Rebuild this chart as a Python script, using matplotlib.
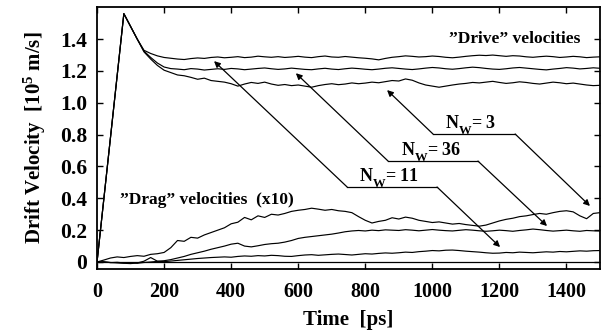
import numpy as np
import matplotlib
matplotlib.use("Agg")
import matplotlib.pyplot as plt
import matplotlib._mathtext as _mt

plt.rcParams['font.family'] = ['Liberation Serif', 'DejaVu Serif']
plt.rcParams['font.weight'] = 'bold'
plt.rcParams['mathtext.fontset'] = 'custom'
plt.rcParams['mathtext.rm'] = 'Liberation Serif:bold'
plt.rcParams['mathtext.it'] = 'Liberation Serif:bold'
plt.rcParams['mathtext.bf'] = 'Liberation Serif:bold'
# deeper subscripts, as in the scanned original
_mt.FontConstantsBase.sub1 = 0.75
_mt.FontConstantsBase.sub2 = 0.9

# ---------------- data ----------------
time_ps = list(range(0, 1501, 20))

drive_top = [0.00, 0.39, 0.78, 1.17, 1.56, 1.48, 1.40, 1.33, 1.31, 1.295,
             1.285, 1.28, 1.275, 1.272, 1.278, 1.282, 1.279, 1.285, 1.288, 1.283,
             1.286, 1.29, 1.284, 1.287, 1.293, 1.289, 1.286, 1.29, 1.285, 1.288,
             1.292, 1.287, 1.284, 1.29, 1.294, 1.288, 1.286, 1.291, 1.287, 1.283,
             1.28, 1.276, 1.27, 1.279, 1.286, 1.29, 1.295, 1.292, 1.288, 1.29,
             1.294, 1.291, 1.286, 1.283, 1.287, 1.292, 1.296, 1.299, 1.297, 1.30,
             1.296, 1.292, 1.296, 1.294, 1.289, 1.286, 1.29, 1.293, 1.29, 1.285,
             1.288, 1.292, 1.289, 1.284, 1.287, 1.289]

drive_mid = [0.00, 0.39, 0.78, 1.17, 1.56, 1.48, 1.40, 1.325, 1.285, 1.25,
             1.225, 1.215, 1.212, 1.208, 1.215, 1.212, 1.206, 1.21, 1.214, 1.21,
             1.216, 1.213, 1.208, 1.212, 1.216, 1.219, 1.214, 1.21, 1.213, 1.218,
             1.214, 1.21, 1.208, 1.213, 1.217, 1.212, 1.209, 1.214, 1.218, 1.215,
             1.211, 1.208, 1.212, 1.217, 1.22, 1.216, 1.212, 1.209, 1.213, 1.218,
             1.222, 1.219, 1.214, 1.211, 1.215, 1.22, 1.224, 1.221, 1.216, 1.212,
             1.21, 1.214, 1.219, 1.222, 1.218, 1.214, 1.21, 1.207, 1.212, 1.216,
             1.221, 1.218, 1.213, 1.216, 1.22, 1.217]

drive_low = [0.00, 0.39, 0.78, 1.17, 1.56, 1.48, 1.40, 1.32, 1.275, 1.235,
             1.205, 1.19, 1.175, 1.17, 1.16, 1.148, 1.155, 1.14, 1.135, 1.13,
             1.12, 1.105, 1.118, 1.128, 1.122, 1.13, 1.118, 1.11, 1.115, 1.108,
             1.112, 1.105, 1.098, 1.108, 1.115, 1.12, 1.114, 1.118, 1.125, 1.12,
             1.124, 1.13, 1.126, 1.133, 1.14, 1.137, 1.15, 1.142, 1.125, 1.112,
             1.105, 1.098, 1.105, 1.112, 1.118, 1.122, 1.128, 1.125, 1.13, 1.135,
             1.128, 1.122, 1.126, 1.132, 1.128, 1.122, 1.118, 1.124, 1.13, 1.126,
             1.12, 1.124, 1.118, 1.112, 1.108, 1.11]

drag_top = [0.0, 0.012, 0.025, 0.032, 0.028, 0.035, 0.04, 0.036, 0.048, 0.052,
            0.06, 0.09, 0.135, 0.13, 0.155, 0.15, 0.17, 0.185, 0.2, 0.215,
            0.24, 0.25, 0.28, 0.265, 0.29, 0.28, 0.30, 0.295, 0.305, 0.318,
            0.325, 0.33, 0.338, 0.332, 0.325, 0.33, 0.322, 0.318, 0.31, 0.285,
            0.262, 0.245, 0.255, 0.262, 0.278, 0.27, 0.282, 0.275, 0.262, 0.255,
            0.248, 0.252, 0.245, 0.238, 0.242, 0.235, 0.23, 0.225, 0.232, 0.245,
            0.258, 0.268, 0.275, 0.285, 0.29, 0.298, 0.305, 0.30, 0.31, 0.318,
            0.322, 0.315, 0.29, 0.272, 0.305, 0.31]

drag_mid = [0.0, 0.0, -0.003, -0.006, -0.008, -0.01, -0.006, 0.005, 0.028, 0.005,
            0.008, 0.015, 0.025, 0.035, 0.048, 0.058, 0.068, 0.08, 0.09, 0.10,
            0.112, 0.118, 0.10, 0.095, 0.102, 0.11, 0.115, 0.118, 0.125, 0.135,
            0.148, 0.155, 0.16, 0.165, 0.17, 0.175, 0.182, 0.19, 0.195, 0.198,
            0.195, 0.20, 0.197, 0.202, 0.20, 0.198, 0.203, 0.20, 0.196, 0.20,
            0.204, 0.20, 0.197, 0.195, 0.199, 0.203, 0.20, 0.196, 0.193, 0.196,
            0.20, 0.197, 0.193, 0.198, 0.202, 0.207, 0.203, 0.198, 0.194, 0.197,
            0.20, 0.196, 0.193, 0.198, 0.196, 0.195]

drag_low = [0.0, 0.002, -0.004, -0.002, -0.006, -0.004, -0.008, -0.003, 0.0, 0.004,
            0.002, 0.006, 0.01, 0.014, 0.018, 0.022, 0.025, 0.028, 0.03, 0.032,
            0.03, 0.035, 0.038, 0.036, 0.04, 0.038, 0.042, 0.04, 0.036, 0.035,
            0.04, 0.044, 0.046, 0.042, 0.045, 0.048, 0.05, 0.047, 0.044, 0.048,
            0.052, 0.05, 0.054, 0.057, 0.055, 0.058, 0.062, 0.06, 0.065, 0.068,
            0.072, 0.07, 0.074, 0.075, 0.072, 0.068, 0.065, 0.062, 0.058, 0.055,
            0.056, 0.06, 0.058, 0.062, 0.06, 0.058, 0.061, 0.064, 0.062, 0.066,
            0.064, 0.067, 0.07, 0.068, 0.071, 0.072]

x_ticks = [0, 200, 400, 600, 800, 1000, 1200, 1400]
y_ticks = [0, 0.2, 0.4, 0.6, 0.8, 1.0, 1.2, 1.4]
y_tick_labels = ['0', '0.2', '0.4', '0.6', '0.8', '1.0', '1.2', '1.4']

nw_labels = ['N$_{W}$= 11', 'N$_{W}$= 36', 'N$_{W}$= 3']

# ---------------- figure ----------------
fig = plt.figure(figsize=(6.11, 3.31), dpi=100)
ax = fig.add_axes([0.1588, 0.1873, 0.8232, 0.7906])

lw = 0.85
for series in (drive_top, drive_mid, drive_low, drag_top, drag_mid, drag_low):
    ax.plot(time_ps, series, color='black', lw=lw)
ax.axhline(0, color='black', lw=0.9)

ax.set_xlim(0, 1500)
ax.set_ylim(-0.044, 1.6)
ax.set_xticks(x_ticks)
ax.set_xticklabels([str(v) for v in x_ticks])
ax.set_yticks(y_ticks)
ax.set_yticklabels(y_tick_labels)
ax.tick_params(direction='in', top=True, right=True, length=4.5, width=1.0)
ax.tick_params(axis='x', pad=9, labelsize=14.5)
ax.tick_params(axis='y', pad=7, labelsize=15.5)
for sp in ax.spines.values():
    sp.set_linewidth(1.3)

ax.set_xlabel('Time  [ps]', fontsize=15, fontweight='bold', labelpad=6)
ax.set_ylabel('Drift Velocity  [10$^{5}$ m/s]', fontsize=15, fontweight='bold',
              labelpad=9)

ax.text(1440, 1.375, '\u201dDrive\u201d velocities', fontsize=12.5,
        fontweight='bold', ha='right', va='baseline')
ax.text(69, 0.364, '\u201dDrag\u201d velocities  (x10)', fontsize=12.5,
        fontweight='bold', ha='left', va='baseline')

# leader lines: (drive tip, horizontal start, horizontal end, drag tip, label pos)
leaders = [
    ((349, 1.262), (746, 0.471), (1014, 0.471), (1202, 0.094), (781, 0.508)),
    ((593, 1.186), (868, 0.634), (1136, 0.634), (1342, 0.226), (907, 0.672)),
    ((865, 1.080), (1002, 0.804), (1247, 0.804), (1470, 0.352), (1038, 0.841)),
]
arrow_kw = dict(arrowstyle='-|>', lw=0.9, color='black', mutation_scale=9,
                shrinkA=0, shrinkB=0)
for (tip1, h0, h1, tip2, lpos), lab in zip(leaders, nw_labels):
    ax.plot([h0[0], h1[0]], [h0[1], h1[1]], color='black', lw=0.9)
    ax.annotate('', xy=tip1, xytext=h0, arrowprops=arrow_kw)
    ax.annotate('', xy=tip2, xytext=h1, arrowprops=arrow_kw)
    ax.text(lpos[0], lpos[1], lab, fontsize=13, fontweight='bold',
            ha='left', va='baseline')

fig.savefig('out.png', dpi=100)
